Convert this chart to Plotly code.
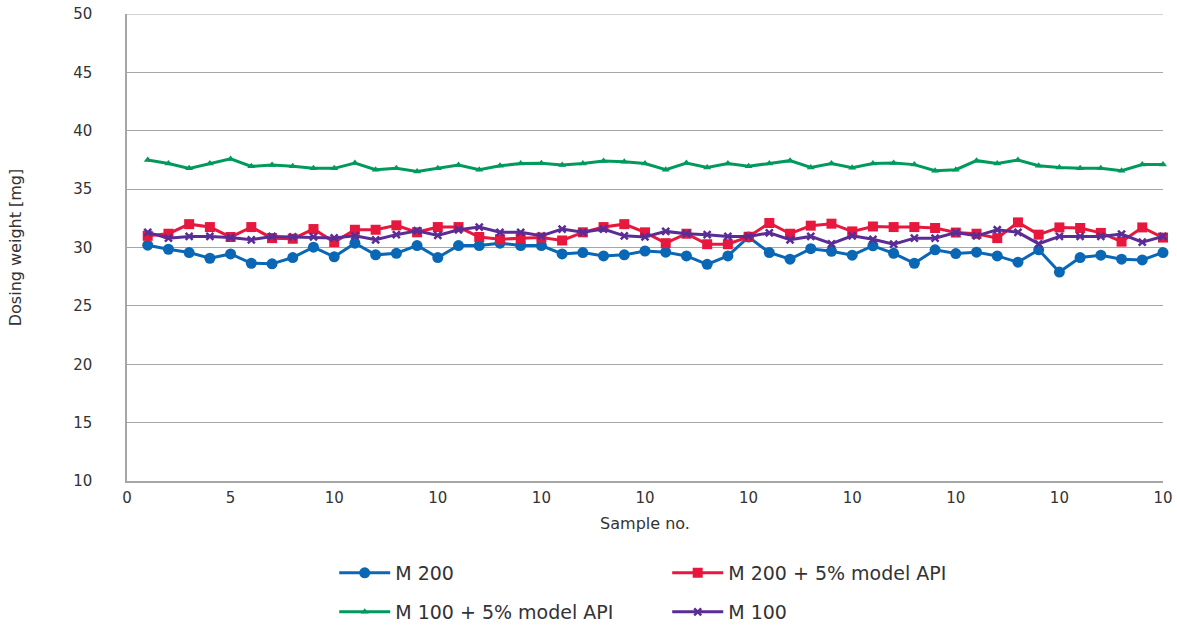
import plotly.graph_objects as go

sample_no = list(range(1, 51))

m200 = [30.2, 29.85, 29.57, 29.08, 29.45, 28.65, 28.6, 29.14, 30.03, 29.2,
        30.37, 29.37, 29.5, 30.17, 29.14, 30.17, 30.17, 30.37, 30.17, 30.17,
        29.45, 29.57, 29.28, 29.37, 29.7, 29.6, 29.28, 28.56, 29.28, 30.9,
        29.57, 29.0, 29.9, 29.68, 29.34, 30.15, 29.5, 28.65, 29.8, 29.48,
        29.6, 29.28, 28.74, 29.8, 27.9, 29.14, 29.34, 29.0, 28.94, 29.57]

m200_api = [31.0, 31.18, 32.0, 31.75, 30.9, 31.75, 30.8, 30.75, 31.58, 30.46,
            31.52, 31.52, 31.9, 31.3, 31.75, 31.75, 30.9, 30.7, 30.8, 30.85,
            30.6, 31.3, 31.75, 32.0, 31.3, 30.37, 31.18, 30.28, 30.28, 30.92,
            32.1, 31.18, 31.87, 32.04, 31.38, 31.8, 31.75, 31.75, 31.67, 31.28,
            31.18, 30.8, 32.15, 31.1, 31.72, 31.67, 31.25, 30.5, 31.72, 30.85]

m100_api = [37.5, 37.2, 36.78, 37.2, 37.59, 36.95, 37.07, 36.95, 36.78, 36.78,
            37.24, 36.66, 36.78, 36.52, 36.78, 37.07, 36.66, 37.0, 37.2, 37.22,
            37.07, 37.2, 37.41, 37.35, 37.2, 36.66, 37.24, 36.86, 37.2, 36.97,
            37.2, 37.44, 36.86, 37.2, 36.83, 37.2, 37.24, 37.1, 36.58, 36.66,
            37.44, 37.2, 37.5, 37.0, 36.86, 36.78, 36.78, 36.58, 37.1, 37.1]

m100 = [31.3, 30.8, 30.95, 30.95, 30.85, 30.66, 30.95, 30.9, 30.9, 30.82,
        31.0, 30.66, 31.1, 31.44, 31.03, 31.52, 31.75, 31.3, 31.3, 31.0,
        31.58, 31.3, 31.58, 31.0, 30.9, 31.38, 31.18, 31.1, 30.95, 30.95,
        31.25, 30.66, 30.95, 30.32, 31.0, 30.7, 30.28, 30.8, 30.8, 31.28,
        31.0, 31.52, 31.3, 30.32, 30.95, 30.95, 30.95, 31.15, 30.46, 30.95]

x_tickvals = [0, 5, 10, 15, 20, 25, 30, 35, 40, 45, 50]
x_ticktext = ["0", "5", "10", "10", "10", "10", "10", "10", "10", "10", "10"]
y_tickvals = [10, 15, 20, 25, 30, 35, 40, 45, 50]
y_max = y_tickvals[-1]

FONT = "DejaVu Sans, Verdana, sans-serif"

series = [
    ("M 200", m200, "#0a67b5", "circle", 11, "legend"),
    ("M 200 + 5% model API", m200_api, "#e8173e", "square", 10, "legend"),
    ("M 100 + 5% model API", m100_api, "#009a5c", "triangle-up", 7, "legend2"),
    ("M 100", m100, "#5a2d96", "x-thin-open", 7, "legend2"),
]

fig = go.Figure()
for name, vals, color, sym, size, leg in series:
    marker = dict(symbol=sym, size=size, color=color)
    if sym == "x-thin-open":
        marker["line"] = dict(color=color, width=2.5)
    fig.add_trace(go.Scatter(
        x=sample_no, y=vals, name=name, mode="lines+markers",
        line=dict(color=color, width=3), marker=marker, legend=leg,
        cliponaxis=False,
    ))

grid = "#a6a6a6"
# top gridline (plotly drops gridlines lying on the plot edge)
fig.add_shape(type="line", xref="paper", x0=0, x1=1, yref="y", y0=y_max, y1=y_max,
              line=dict(color=grid, width=1.2), layer="below")

fig.update_layout(
    width=1177, height=626,
    margin=dict(l=127, r=14, t=14, b=145),
    paper_bgcolor="white", plot_bgcolor="white",
    font=dict(family=FONT, size=15, color="#333333"),
    xaxis=dict(
        range=[0, 50], tickvals=x_tickvals, ticktext=x_ticktext,
        showgrid=False, zeroline=False, showline=True, linecolor=grid, linewidth=1.5,
        ticks="", ticklabelstandoff=2, automargin=False,
        title=dict(text="Sample no.", font=dict(size=16), standoff=12),
    ),
    yaxis=dict(
        range=[10, y_max], tickvals=y_tickvals,
        showgrid=True, gridcolor=grid, gridwidth=1.2, zeroline=False,
        showline=True, linecolor=grid, linewidth=1.5, ticks="",
        ticklabelstandoff=30, automargin=False,
        title=dict(text="Dosing weight [mg]", font=dict(size=16), standoff=48),
    ),
    legend=dict(
        orientation="h", x=0.2, xanchor="left",
        yref="container", y=0.0847, yanchor="middle",
        font=dict(size=19), entrywidth=267, entrywidthmode="pixels",
        bgcolor="rgba(0,0,0,0)", itemwidth=51,
    ),
    legend2=dict(
        orientation="h", x=0.2, xanchor="left",
        yref="container", y=0.0224, yanchor="middle",
        font=dict(size=19), entrywidth=267, entrywidthmode="pixels",
        bgcolor="rgba(0,0,0,0)", itemwidth=51,
    ),
)

fig.write_html(
    "out.html",
    config={"displayModeBar": False},
    post_script="document.body.style.margin='0';document.body.style.overflow='hidden';",
)
